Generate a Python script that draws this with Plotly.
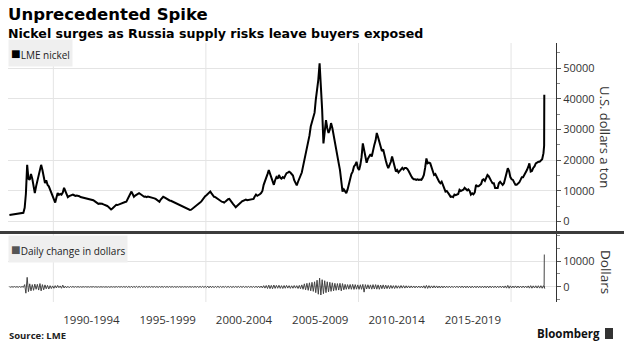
import pandas as pd
import plotly.graph_objects as go

# ---------------- data ----------------
# LME nickel, USD/t, one value per month Jan-1987 .. Feb-2022
PRICE_MONTHLY = [
    # 1987
    2200, 2250, 2300, 2250, 2300, 2400, 2450, 2500, 2600, 2700, 2800, 2900,
    # 1988
    4500, 9000, 18500, 14000, 13600, 15500, 14000, 11000, 9300, 11500, 13500, 15200,
    # 1989
    17000, 18500, 16800, 14500, 12600, 13500, 12000, 11500, 10500, 9300, 8500, 7500,
    # 1990
    6200, 7800, 9300, 8700, 9000, 8800, 9500, 11000, 10000, 9000, 8000, 8300,
    # 1991
    8500, 8700, 8800, 8600, 8400, 8500, 8500, 8300, 8000, 7900, 7800, 7700,
    # 1992
    7600, 7500, 7400, 7500, 7400, 7200, 7000, 6700, 6300, 6000, 5800, 5900,
    # 1993
    5900, 5800, 5600, 5500, 5300, 5100, 4800, 4500, 4000, 4300, 4700, 5200,
    # 1994
    5500, 5400, 5600, 5700, 5800, 6000, 6200, 6400, 6500, 7200, 8000, 9000,
    # 1995
    9800, 9000, 8100, 8500, 8800, 9000, 9300, 9000, 8600, 8300, 8100, 8200,
    # 1996
    8000, 8200, 8100, 8100, 8000, 7800, 7600, 7400, 7000, 6800, 6500, 7200,
    # 1997
    7800, 8100, 7900, 7600, 7400, 7200, 6900, 6800, 6600, 6400, 6100, 5800,
    # 1998
    5600, 5400, 5300, 5200, 5000, 4700, 4500, 4300, 4100, 4000, 3800, 3900,
    # 1999
    4200, 4500, 4900, 5200, 5500, 5800, 6200, 6600, 7200, 7900, 8300, 8600,
    # 2000
    9000, 9500, 9800, 9200, 8700, 8100, 8000, 7700, 7500, 6900, 6700, 6500,
    # 2001
    6400, 6200, 6600, 7000, 7300, 7400, 6700, 6200, 5700, 5200, 4700, 5100,
    # 2002
    5600, 5900, 6200, 6600, 6900, 7100, 7200, 7000, 7100, 7200, 7300, 7300,
    # 2003
    7400, 8200, 8800, 8400, 8600, 8900, 9300, 10000, 12000, 13000, 14500, 15500,
    # 2004
    16800, 15500, 14200, 13500, 12000, 13500, 14500, 14000, 15200, 14300, 14000, 14500,
    # 2005
    14200, 15000, 15800, 16000, 16300, 16000, 15500, 15000, 13500, 12500, 11800, 13000,
    # 2006
    14000, 15200, 16000, 18000, 20100, 21500, 24000, 25500, 28000, 31000, 32500, 34200,
    # 2007
    35500, 39600, 43000, 46200, 51600, 45600, 36400, 25500, 30000, 33100, 30500, 28900,
    # 2008
    30000, 32100, 30500, 28000, 26600, 23500, 21200, 19000, 16800, 13000, 9800, 10500,
    # 2009
    10000, 9300, 10500, 12500, 14000, 15500, 16300, 18000, 18500, 19500, 17500, 16800,
    # 2010
    18500, 21000, 25500, 23500, 21000, 19200, 20500, 21500, 22000, 21200, 23500, 25000,
    # 2011
    26500, 28900, 27500, 26000, 24500, 23000, 23500, 21200, 20000, 18500, 17400, 18500,
    # 2012
    19500, 21200, 19000, 18000, 16300, 16800, 16000, 16500, 17100, 17500, 17000, 17500,
    # 2013
    17500, 17200, 16500, 15500, 14900, 14200, 13800, 13800, 13600, 13800, 13600, 13700,
    # 2014
    13600, 14200, 15200, 17500, 20600, 19000, 19200, 19000, 17500, 16000, 15200, 15500,
    # 2015
    14500, 14000, 13000, 12500, 13000, 12000, 11000, 9800, 10000, 9500, 8800, 8100,
    # 2016
    8200, 8000, 8800, 8600, 8700, 9000, 10400, 10000, 10200, 10400, 11000, 10700,
    # 2017
    10200, 10500, 10000, 8800, 9200, 8900, 9500, 12000, 11500, 11500, 12000, 12300,
    # 2018
    13600, 13800, 13300, 14000, 15200, 14800, 13800, 13200, 12500, 12500, 11000, 11000,
    # 2019
    11000, 12500, 13000, 12500, 12000, 12500, 14500, 16000, 17400, 16500, 14500, 13800,
    # 2020
    13600, 12800, 12000, 12000, 12300, 12800, 13600, 14500, 14500, 15200, 15800, 16800,
    # 2021
    17800, 19000, 16300, 16500, 17500, 18000, 19000, 19300, 19500, 19500, 20100, 20300,
    # 2022
    22300, 24400,
]
# the final days of the series (the March 2022 spike)
SPIKE_DATES = ["2022-03-03", "2022-03-07"]
SPIKE_PRICES = [24800, 41300]

# daily change in dollars (sampled once per month) Jan-1987 .. Feb-2022
CHANGE_MONTHLY = [
    80, -120, 100, -90, 150, -110, 120, -140, 160, -130, 180, -150,
    900, -2400, 3700, -1800, 1200, -1500, 900, -1300, 1100, -900, 1000, -1200,
    1300, -1500, 900, -1100, 800, -700, 600, -800, 500, -600, 400, -500,
    500, -400, 600, -300, 400, -500, 700, -400, 300, -350, 250, -300,
    200, -150, 180, -160, 150, -120, 140, -130, 100, -120, 110, -90,
    120, -100, 90, -110, 100, -80, 120, -100, 90, -110, 80, -100,
    100, -90, 80, -100, 90, -120, 100, -150, 120, -100, 90, -110,
    130, -110, 150, -120, 140, -130, 160, -150, 180, -200, 220, -250,
    300, -280, 250, -220, 260, -240, 230, -200, 220, -190, 200, -180,
    180, -160, 170, -150, 160, -140, 170, -160, 150, -170, 160, -150,
    200, -180, 190, -170, 180, -160, 170, -150, 160, -140, 150, -160,
    140, -130, 150, -140, 130, -120, 140, -130, 120, -110, 130, -120,
    130, -150, 160, -140, 170, -180, 200, -190, 220, -210, 240, -230,
    300, -350, 320, -280, 260, -300, 240, -220, 250, -230, 210, -200,
    200, -190, 220, -210, 230, -200, 190, -210, 180, -170, 190, -180,
    200, -180, 210, -190, 220, -200, 180, -170, 190, -180, 200, -190,
    220, -250, 300, -280, 320, -300, 350, -400, 500, -450, 550, -600,
    700, -650, 600, -700, 750, -550, 600, -500, 650, -550, 500, -600,
    550, -500, 600, -450, 500, -550, 450, -500, 550, -450, 500, -600,
    600, -700, 800, -900, 1200, -1100, 1400, -1300, 1600, -1500, 1800, -1700,
    2000, -2200, 2600, -2800, 3400, -3100, 2800, -2600, 2400, -2200, 2000, -1900,
    1800, -1700, 1600, -1500, 1400, -1300, 1300, -1200, 1400, -1500, 1300, -1100,
    1000, -900, 900, -850, 950, -900, 1000, -950, 900, -850, 800, -900,
    850, -900, 1000, -2000, 900, -800, 850, -750, 800, -850, 900, -800,
    900, -850, 800, -900, 750, -700, 800, -750, 700, -650, 600, -650,
    600, -550, 500, -600, 550, -500, 450, -500, 550, -450, 500, -450,
    450, -400, 420, -380, 400, -350, 380, -360, 340, -320, 350, -330,
    350, -380, 450, -500, 600, -550, 500, -450, 420, -400, 450, -380,
    400, -380, 350, -420, 380, -360, 340, -320, 300, -280, 310, -290,
    280, -260, 270, -250, 300, -280, 320, -300, 340, -320, 360, -340,
    330, -310, 300, -350, 320, -300, 310, -330, 350, -320, 300, -310,
    350, -330, 320, -340, 360, -350, 340, -320, 310, -300, 320, -310,
    300, -280, 320, -300, 340, -360, 400, -450, 600, -500, 420, -380,
    350, -330, 400, -380, 360, -340, 330, -320, 340, -310, 350, -330,
    400, -450, 500, -480, 420, -400, 450, -430, 470, -450, 480, -500,
    500, -550,
]
SPIKE_CHANGES = [600, 12500]

PERIOD_CENTERS = ["1992-07-01", "1997-07-01", "2002-07-01", "2007-07-01", "2012-07-01", "2017-07-01"]
PERIOD_LABELS = ["1990-1994", "1995-1999", "2000-2004", "2005-2009", "2010-2014", "2015-2019"]
DECADE_LINES = ["1990-01-01", "2000-01-01", "2010-01-01", "2020-01-01"]

# ---------------- build ----------------
months = pd.date_range("1987-01-15", periods=len(PRICE_MONTHLY), freq="MS") + pd.Timedelta(days=14)
dates = [d.strftime("%Y-%m-%d") for d in months] + SPIKE_DATES
price = PRICE_MONTHLY + SPIKE_PRICES
change = CHANGE_MONTHLY + SPIKE_CHANGES

W, H = 624, 350
def px(x):
    return x / W
def py(y):
    return 1 - y / H

FONT = "Open Sans"
HEAD = "DejaVu Sans"
TXT = "#333333"

fig = go.Figure()
fig.add_trace(go.Scatter(x=dates, y=price, mode="lines", xaxis="x", yaxis="y",
                         line=dict(color="#000000", width=2), showlegend=False, hoverinfo="skip"))
fig.add_trace(go.Scatter(x=dates, y=change, mode="lines", xaxis="x", yaxis="y2",
                         line=dict(color="#444444", width=1), showlegend=False, hoverinfo="skip"))

x_dom = [px(8), px(556)]
top_dom = [py(233), py(43)]
bot_dom = [py(302), py(233)]

fig.update_layout(
    width=W, height=H, margin=dict(l=0, r=0, t=0, b=0),
    paper_bgcolor="white", plot_bgcolor="white",
    font=dict(family=FONT, color=TXT),
    xaxis=dict(domain=x_dom, type="date", range=["1987-01-12", "2022-12-12"], anchor="y2",
               tickvals=PERIOD_CENTERS, ticktext=PERIOD_LABELS, showgrid=False, zeroline=False,
               ticks="", tickfont=dict(size=11.5, color=TXT), ticklabelstandoff=9, showline=False),
    yaxis=dict(domain=top_dom, anchor="x", side="right", range=[-3700, 58200],
               tickvals=[0, 10000, 20000, 30000, 40000, 50000],
               ticktext=["0", "10000", "20000", "30000", "40000", "50000"],
               showgrid=True, gridcolor="#e4e4e4", gridwidth=1, zeroline=False,
               showline=True, linecolor="#333333", linewidth=1,
               ticks="outside", ticklen=4, tickcolor="#555555", tickfont=dict(size=11, color=TXT),
               minor=dict(tickvals=[5000, 15000, 25000, 35000, 45000, 55000], ticks="outside",
                          ticklen=3, tickcolor="#888888", showgrid=False)),
    yaxis2=dict(domain=bot_dom, anchor="x", side="right", range=[-5800, 20800],
                tickvals=[0, 10000], ticktext=["0", "10000"],
                showgrid=True, gridcolor="#e4e4e4", gridwidth=1, zeroline=False,
                showline=True, linecolor="#333333", linewidth=1,
                ticks="outside", ticklen=4, tickcolor="#555555", tickfont=dict(size=11, color=TXT),
                minor=dict(tickvals=[-5000, 5000, 15000, 20000], ticks="outside",
                           ticklen=3, tickcolor="#888888", showgrid=False)),
)

shapes = []
for d in DECADE_LINES:
    shapes.append(dict(type="line", xref="x", yref="paper", x0=d, x1=d, y0=bot_dom[0], y1=top_dom[1],
                       line=dict(color="#e4e4e4", width=1), layer="below"))
# separator between panels
shapes.append(dict(type="line", xref="paper", yref="paper", x0=0, x1=1, y0=py(232.5), y1=py(232.5),
                   line=dict(color="#3c3c3c", width=3)))
# Bloomberg icon
shapes.append(dict(type="rect", xref="paper", yref="paper", x0=px(605), x1=px(613), y0=py(339), y1=py(328),
                   fillcolor="#333333", line=dict(width=0)))
fig.update_layout(shapes=shapes)

ann = []
ann.append(dict(text="<b>Unprecedented Spike</b>", x=px(6), y=py(14), xref="paper", yref="paper",
                xanchor="left", yanchor="middle", showarrow=False, font=dict(size=16.5, color="#000", family=HEAD)))
ann.append(dict(text="<b>Nickel surges as Russia supply risks leave buyers exposed</b>", x=px(6), y=py(33),
                xref="paper", yref="paper", xanchor="left", yanchor="middle", showarrow=False,
                font=dict(size=12.6, color="#000", family=HEAD)))
ann.append(dict(text="<span style='color:#000;font-size:16px'>■</span>LME nickel", x=px(8), y=py(53.5),
                xref="paper", yref="paper",
                xanchor="left", yanchor="middle", showarrow=False, bgcolor="#efefef", borderpad=2,
                font=dict(size=10, color="#222", family=FONT)))
ann.append(dict(text="<span style='color:#555;font-size:16px'>■</span>Daily change in dollars", x=px(8), y=py(249),
                xref="paper", yref="paper", xanchor="left", yanchor="middle", showarrow=False,
                bgcolor="#efefef", borderpad=2, font=dict(size=10, color="#222", family=FONT)))
ann.append(dict(text="U.S. dollars a ton", x=px(605), y=py(137), xref="paper", yref="paper", textangle=90,
                xanchor="center", yanchor="middle", showarrow=False, font=dict(size=13, color=TXT, family=FONT)))
ann.append(dict(text="Dollars", x=px(606), y=py(272), xref="paper", yref="paper", textangle=90,
                xanchor="center", yanchor="middle", showarrow=False, font=dict(size=13.5, color=TXT, family=FONT)))
ann.append(dict(text="<b>Source: LME</b>", x=px(7), y=py(335), xref="paper", yref="paper",
                xanchor="left", yanchor="middle", showarrow=False, font=dict(size=9.5, color="#222", family=FONT)))
ann.append(dict(text="<b>Bloomberg</b>", x=px(602), y=py(333), xref="paper", yref="paper",
                xanchor="right", yanchor="middle", showarrow=False, font=dict(size=11.5, color="#111", family=FONT)))
fig.update_layout(annotations=ann)

fig.write_html("out.html")
